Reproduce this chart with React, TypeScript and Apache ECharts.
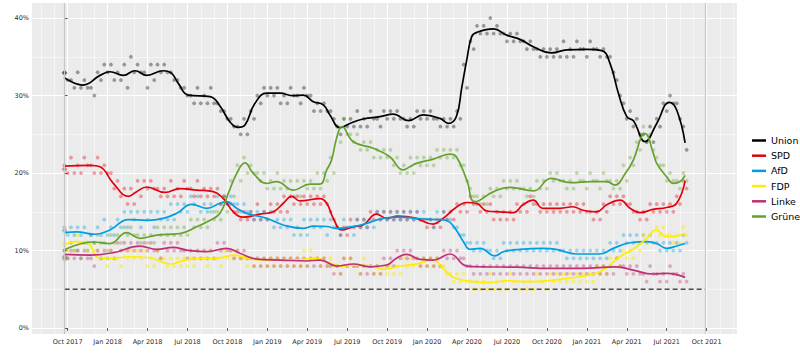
import React, { useEffect, useRef } from 'react';
import * as echarts from 'echarts';

// ---------- axes ----------
const X_TICK_MONTHS = [0, 3, 6, 9, 12, 15, 18, 21, 24, 27, 30, 33, 36, 39, 42, 45, 48];
const X_TICK_LABELS = ['Oct 2017', 'Jan 2018', 'Apr 2018', 'Jul 2018', 'Oct 2018', 'Jan 2019', 'Apr 2019', 'Jul 2019', 'Oct 2019', 'Jan 2020', 'Apr 2020', 'Jul 2020', 'Oct 2020', 'Jan 2021', 'Apr 2021', 'Jul 2021', 'Oct 2021'];
const X_MINOR_MONTHS = [-2, -1, 1, 2, 4, 5, 7, 8, 10, 11, 13, 14, 16, 17, 19, 20, 22, 23, 25, 26, 28, 29, 31, 32, 34, 35, 37, 38, 40, 41, 43, 44, 46, 47, 49, 50];
const Y_TICKS = [0, 10, 20, 30, 40];
const Y_MINOR = [5, 15, 25, 35];
const X_MIN = -2.68;
const X_MAX = 50.28;
const Y_MIN = -0.77;
const Y_MAX = 41.94;

// ---------- parties ----------
const PARTIES = ['Union', 'SPD', 'AfD', 'FDP', 'Linke', 'Grüne'];
const COLORS = ['#000000', '#E3000F', '#009EE0', '#FFED00', '#BE3075', '#64A12D'];

// months since 1 Oct 2017
const ELECTION_MONTHS = [-0.23, 47.87];
const ELECTION_2017 = [32.9, 20.5, 12.6, 10.7, 9.2, 8.9];
const THRESHOLD = 5;

// smoothed trends [month, %]
const UNION_TREND = [[-0.28, 32.35], [1.17, 31.35], [2.43, 32.6], [3.18, 33.07], [4.18, 32.6], [5.06, 33.2], [5.94, 32.6], [7.18, 33.2], [7.81, 32.86], [8.31, 31.57], [9.06, 30.06], [10.7, 29.85], [11.44, 28.65], [12.19, 26.6], [12.82, 25.9], [13.32, 26.2], [14.07, 29.0], [14.95, 30.3], [15.95, 30.3], [16.95, 29.98], [17.7, 30.06], [18.45, 29.2], [19.2, 28.8], [19.7, 27.5], [20.46, 25.85], [21.2, 26.4], [22.2, 26.97], [23.46, 27.27], [24.46, 27.6], [25.6, 26.75], [26.7, 27.5], [27.97, 27.05], [28.6, 26.4], [29.2, 27.3], [29.6, 31.0], [29.98, 34.6], [30.35, 37.6], [30.73, 38.15], [31.98, 38.6], [32.98, 37.8], [33.98, 37.25], [34.98, 36.3], [36.36, 35.5], [37.5, 35.9], [39.0, 35.96], [40.12, 35.8], [40.74, 34.15], [41.37, 30.3], [42.0, 27.27], [42.5, 26.75], [43.37, 24.04], [44.25, 26.4], [45.2, 29.12], [45.75, 28.13], [46.38, 23.9]];
const SPD_TREND = [[-0.28, 20.9], [1.68, 21.0], [2.43, 20.8], [3.43, 18.67], [4.56, 17.0], [5.18, 17.6], [5.94, 18.2], [7.31, 17.5], [8.44, 18.0], [9.69, 17.8], [10.94, 17.6], [11.7, 16.7], [12.44, 15.0], [13.2, 14.3], [14.45, 14.7], [15.45, 15.0], [16.2, 16.1], [16.83, 17.0], [17.45, 16.4], [18.96, 16.7], [19.46, 16.1], [19.96, 14.15], [20.58, 12.65], [21.46, 13.07], [22.2, 13.3], [23.2, 14.7], [23.96, 14.15], [24.8, 14.45], [25.7, 14.3], [26.2, 14.15], [27.47, 13.4], [28.2, 14.15], [29.1, 15.45], [29.98, 16.2], [30.7, 16.1], [31.5, 15.1], [32.48, 15.0], [33.48, 14.9], [34.2, 15.9], [34.98, 16.5], [35.7, 15.45], [36.96, 15.45], [37.96, 15.65], [38.7, 15.2], [39.74, 15.0], [40.5, 15.9], [41.5, 16.5], [42.25, 15.45], [43.0, 14.9], [43.97, 15.3], [45.0, 15.55], [45.75, 16.1], [46.38, 19.0]];
const AFD_TREND = [[-0.28, 12.3], [0.68, 12.4], [2.05, 12.1], [3.18, 12.65], [4.55, 14.0], [5.94, 13.9], [7.18, 14.15], [8.19, 14.8], [9.32, 15.95], [10.44, 15.45], [11.44, 16.1], [11.95, 16.3], [12.7, 15.45], [13.45, 14.8], [14.95, 14.15], [16.2, 13.3], [17.7, 12.86], [18.45, 13.16], [19.46, 13.1], [20.2, 12.86], [21.46, 13.1], [22.46, 13.5], [23.7, 14.15], [24.96, 14.3], [26.46, 14.1], [27.72, 14.0], [28.5, 13.85], [29.1, 12.86], [29.73, 11.14], [30.23, 10.15], [30.98, 10.28], [32.1, 9.3], [32.73, 9.85], [33.98, 10.15], [35.7, 10.28], [36.7, 10.15], [38.2, 9.55], [39.99, 9.55], [40.98, 10.28], [42.24, 11.0], [43.5, 11.14], [44.25, 10.9], [45.0, 10.28], [45.75, 10.58], [46.38, 10.9]];
const FDP_TREND = [[-0.28, 10.7], [0.68, 11.14], [1.55, 10.9], [2.3, 9.07], [3.43, 9.0], [4.55, 9.2], [6.18, 9.07], [7.69, 8.26], [8.69, 8.69], [9.94, 9.0], [11.2, 9.0], [12.44, 9.42], [13.94, 8.86], [15.45, 8.77], [16.95, 8.77], [18.7, 9.0], [19.46, 8.56], [20.46, 8.0], [21.46, 8.13], [22.7, 8.0], [23.7, 7.57], [24.96, 8.0], [26.2, 8.26], [27.47, 8.77], [28.2, 7.7], [28.97, 6.54], [29.98, 6.1], [31.48, 5.85], [32.98, 6.1], [34.48, 5.98], [35.98, 6.1], [37.47, 6.4], [39.22, 6.84], [40.22, 7.48], [41.47, 9.2], [42.47, 10.15], [43.5, 11.57], [44.2, 12.65], [45.0, 11.78], [45.75, 11.87], [46.38, 12.2]];
const LINKE_TREND = [[-0.28, 9.5], [1.68, 9.42], [3.43, 9.72], [5.43, 10.58], [6.69, 10.15], [7.93, 10.4], [8.94, 10.06], [10.44, 9.85], [11.95, 10.28], [12.94, 9.64], [14.2, 8.9], [15.95, 8.77], [17.96, 8.65], [18.96, 8.77], [20.2, 8.0], [21.46, 8.26], [22.7, 7.9], [23.96, 8.13], [24.7, 9.0], [25.45, 9.5], [26.46, 8.86], [27.47, 8.77], [28.72, 9.55], [29.98, 8.0], [31.2, 7.9], [33.7, 7.85], [36.2, 7.7], [38.7, 7.7], [41.2, 7.9], [42.47, 7.48], [43.97, 6.97], [45.0, 7.05], [46.38, 6.54]];
const GRUENE_TREND = [[-0.28, 10.06], [1.92, 11.1], [3.18, 10.9], [4.43, 12.3], [5.43, 11.57], [6.69, 12.0], [8.44, 12.2], [9.69, 13.07], [10.7, 13.9], [11.44, 14.8], [12.07, 17.4], [12.7, 19.96], [13.32, 21.3], [13.94, 19.96], [14.95, 18.67], [15.7, 18.9], [16.95, 17.8], [18.2, 18.58], [18.96, 18.58], [19.46, 20.4], [19.83, 21.7], [20.2, 24.5], [20.6, 26.0], [21.46, 24.04], [22.96, 23.2], [24.2, 22.1], [25.2, 20.4], [25.7, 20.8], [26.2, 21.25], [27.47, 21.8], [28.72, 22.45], [29.2, 22.1], [29.98, 19.1], [30.6, 16.3], [32.0, 17.6], [33.2, 18.15], [35.0, 17.7], [36.3, 19.3], [37.8, 18.75], [39.3, 18.9], [40.5, 18.9], [41.1, 18.45], [41.9, 19.96], [42.5, 21.7], [43.1, 24.7], [43.37, 25.1], [44.0, 22.5], [44.25, 21.25], [45.0, 19.5], [45.5, 18.67], [46.0, 18.9], [46.38, 19.7]];

// individual polls: pairs every half month starting late Sep 2017
const POLL_START = -0.25;
const POLL_STEP = 0.5;
const PAIR_OFFSET = 0.25;
const UNION_POLLS = [[33,32],[32,31],[33,31],[32,31],[31,30],[33,32],[34,33],[34,32],[33,32],[34,31],[35,33],[34,33],[33,31],[34,32],[34,33],[34,33],[33,32],[32,31],[31,30],[30,29],[31,29],[30,29],[31,29],[29,28],[28,27],[27,26],[26,25],[27,25],[28,27],[30,29],[31,30],[31,30],[31,29],[30,29],[31,30],[30,29],[31,30],[30,28],[29,28],[29,28],[28,27],[26,25],[27,26],[27,26],[28,26],[27,26],[28,27],[27,26],[28,27],[28,27],[28,27],[27,26],[27,26],[28,27],[28,27],[28,27],[27,26],[27,26],[27,26],[28,27],[34,31],[37,36],[39,38],[39,38],[40,38],[39,38],[38,37],[38,37],[38,37],[37,36],[37,36],[36,35],[36,35],[36,35],[36,35],[37,35],[36,35],[37,36],[36,35],[37,36],[36,35],[36,35],[35,33],[32,30],[29,27],[28,26],[27,25],[25,24],[26,24],[27,26],[29,28],[30,29],[29,27],[26,23]];
const SPD_POLLS = [[21,20],[22,20],[21,20],[22,21],[21,20],[22,20],[21,20],[20,18],[19,17],[18,16],[18,16],[19,17],[19,18],[19,18],[18,17],[18,17],[19,17],[18,17],[19,18],[18,17],[19,17],[18,17],[18,17],[18,16],[17,16],[16,15],[15,14],[15,14],[15,14],[16,14],[15,14],[16,15],[16,15],[17,15],[17,16],[17,16],[17,16],[17,16],[17,16],[17,16],[15,14],[13,12],[13,12],[14,13],[14,13],[14,13],[15,14],[15,14],[15,14],[15,14],[15,14],[15,14],[15,14],[15,14],[14,13],[14,13],[14,13],[15,14],[15,14],[16,15],[16,15],[17,16],[16,15],[16,15],[16,14],[15,14],[15,14],[15,14],[16,15],[16,15],[17,16],[16,15],[16,15],[16,15],[16,15],[16,15],[16,15],[16,15],[16,15],[15,14],[15,14],[16,15],[17,16],[17,16],[17,16],[16,15],[15,14],[15,14],[16,15],[16,15],[16,15],[16,15],[17,16],[19,18]];
const AFD_POLLS = [[13,12],[13,12],[13,12],[13,11],[12,11],[13,12],[14,12],[13,12],[14,13],[15,13],[15,14],[15,13],[15,14],[15,13],[15,14],[15,14],[16,14],[16,15],[16,15],[17,16],[17,15],[16,15],[16,15],[17,16],[17,16],[17,16],[16,15],[16,15],[15,14],[15,14],[15,14],[15,13],[14,13],[14,13],[14,12],[13,12],[14,12],[14,13],[14,13],[14,12],[14,13],[13,12],[14,13],[13,12],[14,13],[14,13],[14,13],[15,14],[15,14],[15,14],[15,14],[15,14],[15,14],[15,14],[15,14],[14,13],[15,14],[15,14],[14,13],[13,12],[12,11],[11,10],[11,10],[11,10],[10,9],[10,9],[11,10],[11,10],[11,10],[11,10],[11,10],[11,10],[11,10],[11,10],[11,10],[10,9],[10,9],[10,9],[10,9],[10,9],[10,9],[10,9],[11,10],[11,10],[12,11],[12,11],[12,11],[12,11],[12,11],[11,10],[11,10],[11,10],[11,10],[12,11]];
const FDP_POLLS = [[11,10],[11,10],[12,11],[11,10],[11,10],[10,9],[9,8],[10,9],[9,8],[10,9],[10,9],[10,9],[10,8],[9,8],[10,9],[9,8],[9,8],[9,8],[9,8],[9,8],[10,9],[9,8],[10,9],[9,8],[10,9],[10,9],[10,9],[9,8],[9,8],[9,8],[9,8],[9,8],[9,8],[9,8],[9,8],[9,8],[10,8],[10,9],[9,8],[9,8],[9,8],[8,7],[9,8],[9,8],[8,7],[9,8],[8,7],[8,7],[8,7],[8,7],[8,7],[9,8],[9,8],[9,8],[9,8],[9,8],[9,8],[8,7],[7,6],[7,6],[7,6],[6,5],[6,5],[6,5],[7,5],[6,5],[6,5],[7,6],[6,5],[6,5],[6,5],[7,6],[6,5],[7,6],[7,6],[7,6],[7,6],[7,6],[7,6],[7,6],[8,7],[8,7],[9,8],[9,8],[10,9],[10,9],[11,10],[12,11],[12,11],[13,12],[13,12],[12,11],[12,11],[13,12]];
const LINKE_POLLS = [[10,9],[10,9],[10,9],[10,9],[9,8],[10,9],[10,9],[10,9],[11,10],[11,10],[11,10],[11,10],[11,10],[11,10],[10,9],[11,10],[11,10],[11,10],[10,9],[10,9],[10,9],[10,9],[10,9],[11,10],[11,10],[10,9],[10,9],[10,9],[9,8],[9,8],[9,8],[9,8],[9,8],[9,8],[9,8],[9,8],[9,8],[9,8],[9,8],[9,8],[8,7],[8,7],[9,8],[9,8],[8,7],[8,7],[8,7],[8,7],[9,8],[9,8],[10,9],[10,9],[10,9],[9,8],[9,8],[9,8],[9,8],[10,9],[10,9],[10,9],[9,8],[8,7],[8,7],[8,7],[8,7],[8,7],[8,7],[8,7],[8,7],[8,7],[8,7],[8,7],[8,7],[8,7],[8,7],[8,7],[8,7],[8,7],[8,7],[8,7],[8,7],[8,7],[8,7],[9,8],[8,7],[8,7],[8,7],[7,6],[8,7],[7,6],[7,6],[8,7],[7,6],[7,6]];
const GRUENE_POLLS = [[10,9],[11,10],[10,9],[11,10],[12,11],[12,11],[11,10],[12,11],[12,11],[13,12],[13,12],[12,11],[12,11],[12,11],[13,12],[13,12],[13,12],[13,12],[13,12],[14,13],[14,13],[14,13],[15,14],[15,14],[17,15],[19,17],[21,19],[22,20],[21,20],[20,19],[20,18],[19,18],[20,18],[19,18],[19,17],[19,17],[19,18],[19,18],[20,18],[20,19],[22,20],[26,24],[27,25],[25,24],[25,23],[24,23],[24,22],[23,22],[23,22],[23,21],[22,20],[21,20],[22,20],[22,21],[22,21],[22,21],[23,22],[23,22],[23,22],[23,21],[21,19],[18,17],[17,16],[17,16],[18,17],[18,17],[19,18],[19,18],[19,18],[18,17],[18,17],[19,18],[19,18],[20,19],[20,19],[19,18],[19,18],[20,19],[19,18],[20,19],[19,18],[20,19],[19,18],[19,18],[21,19],[22,21],[24,23],[26,24],[25,23],[22,21],[21,19],[20,19],[19,18],[20,19]];

const TRENDS = [UNION_TREND, SPD_TREND, AFD_TREND, FDP_TREND, LINKE_TREND, GRUENE_TREND];
const POLLS = [UNION_POLLS, SPD_POLLS, AFD_POLLS, FDP_POLLS, LINKE_POLLS, GRUENE_POLLS];

const FONT = 'DejaVu Sans';

function buildOption() {
  const pollSeries = PARTIES.map((p, i) => ({
    name: p + ' Umfragen',
    type: 'scatter',
    xAxisIndex: 0,
    yAxisIndex: 0,
    symbolSize: 3.8,
    silent: true,
    z: 2,
    itemStyle: { color: COLORS[i], opacity: i === 3 ? 0.5 : 0.36 },
    data: POLLS[i].flatMap((pair, k) => [
      [POLL_START + k * POLL_STEP, pair[0]],
      [POLL_START + k * POLL_STEP + PAIR_OFFSET, pair[1]],
    ]),
  }));
  const trendSeries = PARTIES.map((p, i) => ({
    name: p,
    type: 'line',
    xAxisIndex: 0,
    yAxisIndex: 0,
    smooth: 0.45,
    showSymbol: false,
    symbol: 'none',
    silent: true,
    z: 4,
    color: COLORS[i],
    lineStyle: { color: COLORS[i], width: 1.7 },
    data: TRENDS[i],
  }));
  const electionSeries = {
    name: 'Wahl 2017',
    type: 'scatter',
    symbol: 'diamond',
    symbolSize: 6,
    silent: true,
    z: 3,
    data: ELECTION_2017.map((v, i) => ({
      value: [ELECTION_MONTHS[0], v],
      itemStyle: { color: COLORS[i], opacity: 0.45 },
    })),
  };
  const thresholdSeries = {
    name: '5%-Hürde',
    type: 'line',
    silent: true,
    symbol: 'none',
    z: 3,
    lineStyle: { color: '#4a4a4a', width: 1.6, type: [5, 3] },
    data: [[ELECTION_MONTHS[0], THRESHOLD], [ELECTION_MONTHS[1], THRESHOLD]],
    markLine: {
      silent: true,
      symbol: 'none',
      label: { show: false },
      lineStyle: { color: '#c6c6c6', width: 1.2, type: 'solid' },
      data: ELECTION_MONTHS.map((m) => ({ xAxis: m })),
    },
  };

  return {
    animation: false,
    backgroundColor: '#ffffff',
    textStyle: { fontFamily: FONT },
    grid: {
      left: 32, right: 63, top: 3, bottom: 22,
      show: true, backgroundColor: '#EBEBEB', borderWidth: 0,
    },
    legend: {
      data: PARTIES,
      orient: 'vertical',
      left: 747,
      top: 130,
      icon: 'rect',
      itemWidth: 14,
      itemHeight: 2.5,
      itemGap: 4.2,
      selectedMode: false,
      textStyle: { fontFamily: FONT, fontSize: 9.5, color: '#000', lineHeight: 11 },
    },
    xAxis: [
      {
        type: 'value', min: X_MIN, max: X_MAX,
        axisLine: { show: false },
        axisTick: { show: true, customValues: X_TICK_MONTHS, length: 3, lineStyle: { color: '#333', width: 0.8 } },
        axisLabel: {
          customValues: X_TICK_MONTHS,
          formatter: (v: number) => { const k = X_TICK_MONTHS.indexOf(v); return k >= 0 ? X_TICK_LABELS[k] : ''; },
          fontFamily: FONT, fontSize: 6.5, color: '#2b2b2b', margin: 4,
        },
        splitLine: { show: true, lineStyle: { color: '#ffffff', width: 1.1 } },
      },
      {
        type: 'value', min: X_MIN, max: X_MAX, position: 'bottom',
        axisLine: { show: false },
        axisTick: { show: false, customValues: X_MINOR_MONTHS },
        axisLabel: { show: false, customValues: X_MINOR_MONTHS },
        splitLine: { show: true, lineStyle: { color: '#ffffff', width: 0.5 } },
      },
    ],
    yAxis: [
      {
        type: 'value', min: Y_MIN, max: Y_MAX,
        axisLine: { show: false },
        axisTick: { show: true, customValues: Y_TICKS, length: 3, lineStyle: { color: '#333', width: 0.8 } },
        axisLabel: {
          customValues: Y_TICKS,
          formatter: (v: number) => v + '%',
          fontFamily: FONT, fontSize: 6.5, color: '#2b2b2b', margin: 3,
        },
        splitLine: { show: true, lineStyle: { color: '#ffffff', width: 1.1 } },
      },
      {
        type: 'value', min: Y_MIN, max: Y_MAX, position: 'left',
        axisLine: { show: false },
        axisTick: { show: false, customValues: Y_MINOR },
        axisLabel: { show: false, customValues: Y_MINOR },
        splitLine: { show: true, lineStyle: { color: '#ffffff', width: 0.5 } },
      },
    ],
    series: [...pollSeries, electionSeries, thresholdSeries, ...trendSeries],
  };
}

export default function App() {
  const ref = useRef<HTMLDivElement>(null);
  useEffect(() => {
    if (!ref.current) return;
    const chart = echarts.init(ref.current, null, { renderer: 'svg' });
    chart.setOption(buildOption() as any);
    return () => chart.dispose();
  }, []);
  return (
    <div
      ref={ref}
      style={{ position: 'fixed', left: 0, top: 0, width: 800, height: 356, background: '#fff' }}
    />
  );
}
